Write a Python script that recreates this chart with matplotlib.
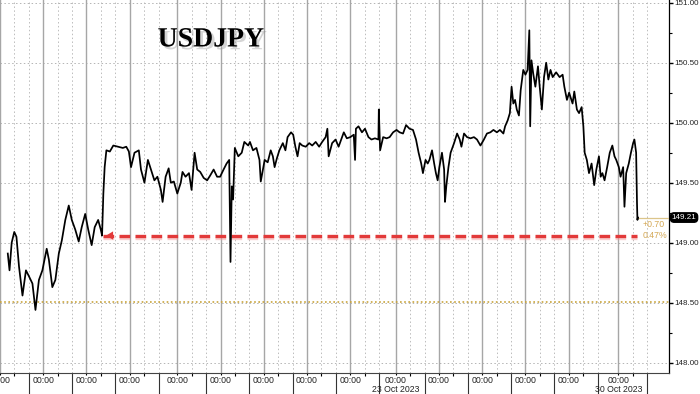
import matplotlib
matplotlib.use("Agg")
import matplotlib.pyplot as plt
import matplotlib.patheffects as pe
import numpy as np

# ---------------- data ----------------
# time axis in trading-day units (weekends compressed), price in JPY per USD
t = [0.18, 0.22, 0.27, 0.33, 0.38, 0.44, 0.52, 0.60, 0.67, 0.75, 0.82, 0.90, 0.98,
     1.08, 1.13, 1.21, 1.28, 1.36, 1.43, 1.51, 1.59, 1.66, 1.74, 1.82, 1.89, 1.97,
     2.04, 2.12, 2.19, 2.27, 2.33, 2.36, 2.39, 2.42, 2.46, 2.54, 2.62, 2.73, 2.84,
     2.92, 2.98, 3.03, 3.11, 3.21, 3.26, 3.34, 3.42, 3.49, 3.57, 3.64, 3.72, 3.76,
     3.83, 3.90, 3.95, 4.02, 4.10, 4.18, 4.22, 4.29, 4.37, 4.43, 4.50, 4.56, 4.63,
     4.71, 4.79, 4.86, 4.94, 5.02, 5.09, 5.17, 5.24, 5.30, 5.33, 5.36, 5.39, 5.43,
     5.51, 5.59, 5.65, 5.74, 5.78, 5.85, 5.93, 6.00, 6.03, 6.12, 6.19, 6.26, 6.31,
     6.35, 6.40, 6.46, 6.54, 6.60, 6.65, 6.73, 6.78, 6.83, 6.88, 6.93, 6.99, 7.07,
     7.15, 7.22, 7.30, 7.38, 7.45, 7.53, 7.57, 7.60, 7.68, 7.76, 7.83, 7.91, 7.95,
     8.02, 8.10, 8.18, 8.21, 8.23, 8.29, 8.37, 8.44, 8.52, 8.59, 8.67, 8.75, 8.76,
     8.79, 8.86, 8.94, 9.01, 9.09, 9.17, 9.24, 9.32, 9.39, 9.47, 9.55, 9.62, 9.68,
     9.74, 9.78, 9.84, 9.89, 9.93, 9.99, 10.04, 10.08, 10.12, 10.16, 10.22, 10.27,
     10.29, 10.32, 10.37, 10.42, 10.50, 10.57, 10.63, 10.67, 10.73, 10.80, 10.88,
     10.96, 11.03, 11.11, 11.19, 11.26, 11.34, 11.41, 11.49, 11.56, 11.64, 11.68,
     11.74, 11.79, 11.83, 11.87, 11.91, 11.95, 12.00, 12.04, 12.10, 12.15, 12.20,
     12.24, 12.26, 12.29, 12.33, 12.38, 12.44, 12.48, 12.53, 12.58, 12.63, 12.68,
     12.73, 12.78, 12.86, 12.94, 13.01, 13.05, 13.11, 13.16, 13.24, 13.28, 13.34,
     13.39, 13.45, 13.49, 13.52, 13.57, 13.62, 13.68, 13.74, 13.79, 13.85, 13.89,
     13.93, 13.98, 14.04, 14.10, 14.16, 14.21, 14.25, 14.31, 14.35, 14.41, 14.44,
     14.48, 14.54, 14.59, 14.64, 14.67, 14.71, 14.73, 14.74, 14.75]
price = [148.91, 148.77, 149.00, 149.09, 149.05, 148.80, 148.56, 148.77, 148.72, 148.66,
         148.44, 148.69, 148.77, 148.95, 148.86, 148.63, 148.69, 148.91, 149.02, 149.19,
         149.31, 149.19, 149.11, 149.01, 149.13, 149.24, 149.11, 148.98, 149.13, 149.19,
         149.11, 149.06, 149.41, 149.63, 149.77, 149.76, 149.81, 149.80, 149.79, 149.80,
         149.76, 149.63, 149.75, 149.77, 149.61, 149.50, 149.69, 149.61, 149.52, 149.55,
         149.44, 149.34, 149.55, 149.62, 149.50, 149.51, 149.41, 149.50, 149.59, 149.55,
         149.58, 149.44, 149.75, 149.61, 149.59, 149.54, 149.52, 149.56, 149.61, 149.55,
         149.55, 149.61, 149.66, 149.69, 148.84, 149.47, 149.36, 149.79, 149.72, 149.75,
         149.84, 149.81, 149.84, 149.77, 149.79, 149.69, 149.51, 149.69, 149.67, 149.77,
         149.72, 149.63, 149.70, 149.77, 149.83, 149.77, 149.88, 149.92, 149.90, 149.80,
         149.72, 149.83, 149.81, 149.80, 149.83, 149.81, 149.84, 149.80, 149.84, 149.88,
         149.95, 149.72, 149.83, 149.86, 149.80, 149.88, 149.92, 149.87, 149.88, 149.90,
         149.69, 149.95, 149.97, 149.92, 149.95, 149.88, 149.86, 149.87, 149.86, 150.11,
         149.77, 149.88, 149.87, 149.88, 149.92, 149.94, 149.92, 149.91, 149.98, 149.95,
         149.94, 149.86, 149.75, 149.66, 149.58, 149.69, 149.66, 149.69, 149.77, 149.66,
         149.58, 149.52, 149.63, 149.75, 149.61, 149.34, 149.47, 149.63, 149.75, 149.83,
         149.91, 149.86, 149.80, 149.91, 149.88, 149.87, 149.88, 149.86, 149.81, 149.86,
         149.91, 149.92, 149.94, 149.92, 149.94, 149.91, 149.97, 150.02, 150.08, 150.30,
         150.16, 150.19, 150.11, 150.06, 150.27, 150.44, 150.40, 150.44, 150.77, 149.97,
         150.52, 150.41, 150.30, 150.47, 150.30, 150.11, 150.38, 150.50, 150.36, 150.44,
         150.38, 150.42, 150.38, 150.40, 150.30, 150.19, 150.25, 150.16, 150.26, 150.11,
         150.08, 150.13, 149.97, 149.75, 149.69, 149.58, 149.66, 149.48, 149.61, 149.72,
         149.55, 149.58, 149.52, 149.63, 149.75, 149.81, 149.72, 149.69, 149.63, 149.55,
         149.63, 149.30, 149.58, 149.66, 149.75, 149.83, 149.86, 149.75, 149.33, 149.19,
         149.21]

# session starts (00:00) on the compressed time axis
day_pos = [0, 1, 2, 3, 4.1, 5.1, 6.1, 7.1, 8.1, 9.15, 10.15, 11.15, 12.15, 13.15, 14.3]
day_labels = ["00:00"] * 9 + ["00:00\n23 Oct 2023"] + ["00:00"] * 4 + ["00:00\n30 Oct 2023"]

y_ticks = [148.0, 148.5, 149.0, 149.5, 150.0, 150.5, 151.0]
last_price = 149.21
prev_close = 148.51
change_txt = "+0.70"
change_pct_txt = "0.47%"
ref_level = 149.06
ref_start = 2.39
ref_end = 14.73

title = "USDJPY"

# ---------------- figure ----------------
plt.rcParams["font.family"] = ["Liberation Sans", "DejaVu Sans"]

fig = plt.figure(figsize=(7.0, 3.94), dpi=100)
ax = fig.add_axes([0.0, 0.0525, 669 / 700, 0.9475])
ax.set_xlim(0.177, 15.47)
ax.set_ylim(147.912, 151.0225)

# grid: horizontal dotted at 0.5 steps
for yv in y_ticks:
    ax.axhline(yv, color="#b4b4b4", lw=0.7, ls=(0, (1.5, 2.5)), zorder=1)

# vertical dotted lines at 1/3 and 2/3 of each session, solid at session start
for d in day_pos:
    ax.axvline(d, color="#a6a6a6", lw=1.0, zorder=1)
    for frac in (1 / 3, 2 / 3):
        ax.axvline(d + frac, color="#bcbcbc", lw=0.7, ls=(0, (1.5, 2.5)), zorder=1)

# previous close line (dotted gold)
ax.axhline(prev_close, color="#c9a43c", lw=1.2, ls=(0, (1, 1.5)), zorder=2)

# price line
ax.plot(t, price, color="black", lw=1.25, zorder=4)

# red dashed reference line with arrow
red = "#e23a3a"
ax.plot([ref_start, ref_end], [ref_level, ref_level], color=red, lw=2.4,
        dashes=(3.2, 1.6), zorder=3, solid_capstyle="butt",
        path_effects=[pe.SimpleLineShadow(offset=(0, -1.5), shadow_color="#f4a0a0", alpha=0.5),
                      pe.Normal()])
ax.annotate("", xy=(ref_start, ref_level), xytext=(ref_start + 0.25, ref_level),
            arrowprops=dict(arrowstyle="-|>,head_length=0.5,head_width=0.3",
                            color=red, lw=0), zorder=3)

# last price connector and change text
ax.plot([t[-1], ax.get_xlim()[1]], [last_price, last_price], color="#dcc58a", lw=0.9, zorder=3)
ax.text(t[-1] + 0.12, last_price - 0.02, change_txt, color="#d4a855", fontsize=6.3,
        va="top", ha="left")
ax.text(t[-1] + 0.12, last_price - 0.11, change_pct_txt, color="#d4a855", fontsize=6.3,
        va="top", ha="left")

# right axis
ax.yaxis.tick_right()
ax.set_yticks(y_ticks)
ax.set_yticklabels([f"{v:.2f}" for v in y_ticks])
ax.set_yticks(np.arange(148.0, 151.01, 0.25), minor=True)
ax.tick_params(axis="y", which="major", direction="out", length=3, width=1.0,
               pad=0.8, labelsize=5.8, colors="black", labelcolor="#222222")
ax.tick_params(axis="y", which="minor", direction="out", length=2, width=0.8)

# last price tag
ax.text(1.004, last_price, f"{last_price:.2f}", transform=ax.get_yaxis_transform(),
        color="white", fontsize=5.8, va="center", ha="left",
        bbox=dict(boxstyle="round,pad=0.15,rounding_size=0.45", fc="black", ec="black"),
        zorder=6, clip_on=False)

# bottom axis
ax.set_xticks(day_pos)
ax.set_xticklabels(day_labels, linespacing=1.05)
minor_x = [d + 1 / 3 for d in day_pos]
ax.set_xticks(minor_x, minor=True)
ax.tick_params(axis="x", which="major", direction="out", length=1.5, width=0.8,
               pad=0.5, labelsize=6.3, labelcolor="#222222")
ax.tick_params(axis="x", which="minor", direction="out", length=2, width=0.8)

sec = ax.secondary_xaxis("bottom")
sec.set_xticks([d + 2 / 3 for d in day_pos])
sec.set_xticklabels([])
sec.tick_params(axis="x", direction="out", length=16, width=0.8, color="#333333")
sec.spines["bottom"].set_visible(False)

for s in ("top", "left"):
    ax.spines[s].set_visible(False)
ax.spines["right"].set_color("black")
ax.spines["right"].set_linewidth(0.9)
ax.spines["bottom"].set_color("#444444")
ax.spines["bottom"].set_linewidth(0.8)

# title
ax.text(0.315, 0.893, title, transform=ax.transAxes, ha="center", va="center",
        fontsize=20, fontweight="bold", family=["Liberation Serif", "DejaVu Serif"],
        color="black", zorder=6,
        path_effects=[pe.SimplePatchShadow(offset=(2, -2), shadow_rgbFace="#888888", alpha=0.35),
                      pe.Normal()])

fig.savefig("out.png", dpi=100)
